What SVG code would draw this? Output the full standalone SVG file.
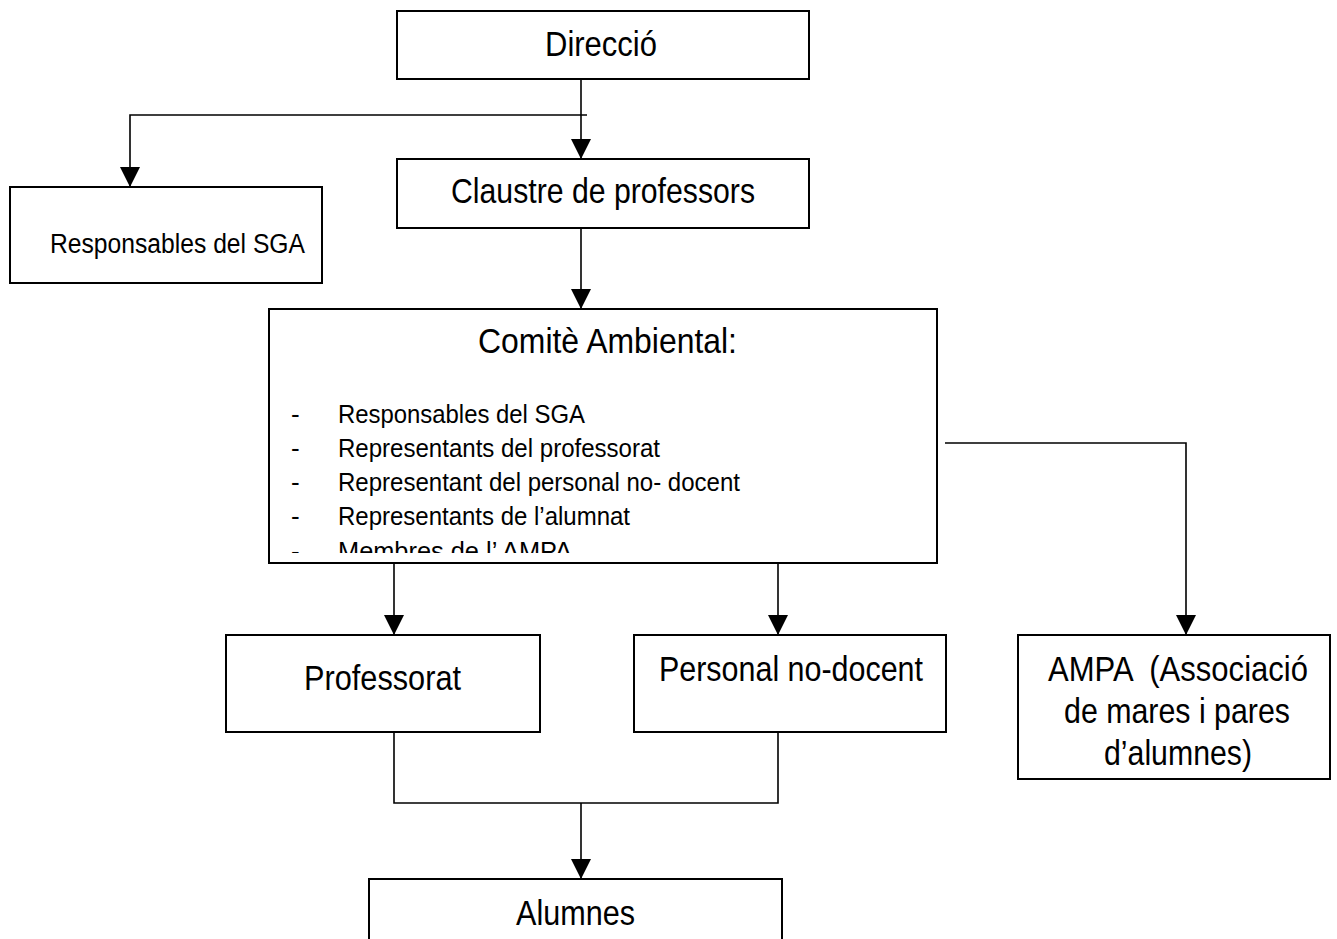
<svg xmlns="http://www.w3.org/2000/svg" width="1337" height="939" viewBox="0 0 1337 939">
<style>
.box{fill:#fff;stroke:#000;stroke-width:2}
.conn{fill:none;stroke:#000;stroke-width:1.6}
text{font-family:"Liberation Sans",Arial,sans-serif;fill:#000}
.big{font-size:35px}
.small{font-size:27px}
.item{font-size:26px}
</style>
<defs>
<marker id="arrow" markerUnits="userSpaceOnUse" markerWidth="20" markerHeight="20" refX="20" refY="10" orient="auto" viewBox="0 0 20 20">
<path d="M0,0 L20,10 L0,20 Z" fill="#000"/>
</marker>
<clipPath id="clipList"><rect x="270" y="309" width="667" height="244"/></clipPath>
</defs>
<rect width="1337" height="939" fill="#fff"/>

<g id="connectors">
<path class="conn" d="M581,79 V159" marker-end="url(#arrow)"/>
<path class="conn" d="M587,115 H130 V187" marker-end="url(#arrow)"/>
<path class="conn" d="M581,228 V309" marker-end="url(#arrow)"/>
<path class="conn" d="M394,563 V635" marker-end="url(#arrow)"/>
<path class="conn" d="M778,563 V635" marker-end="url(#arrow)"/>
<path class="conn" d="M945,443 H1186 V635" marker-end="url(#arrow)"/>
<path class="conn" d="M394,732 V803 H778 V732"/>
<path class="conn" d="M581,803 V879" marker-end="url(#arrow)"/>
</g>

<g id="direccio">
<rect class="box" x="397" y="11" width="412" height="68"/>
<text class="big" x="545" y="56" textLength="112" lengthAdjust="spacingAndGlyphs">Direcció</text>
</g>

<g id="claustre">
<rect class="box" x="397" y="159" width="412" height="69"/>
<text class="big" x="451" y="203" textLength="304" lengthAdjust="spacingAndGlyphs">Claustre de professors</text>
</g>

<g id="responsables">
<rect class="box" x="10" y="187" width="312" height="96"/>
<text class="small" x="50" y="253" textLength="255" lengthAdjust="spacingAndGlyphs">Responsables del SGA</text>
</g>

<g id="comite">
<rect class="box" x="269" y="309" width="668" height="254"/>
<text class="big" x="478" y="353" textLength="259" lengthAdjust="spacingAndGlyphs">Comitè Ambiental:</text>
<g clip-path="url(#clipList)">
<text class="item" x="291" y="423">-</text>
<text class="item" x="338" y="423" textLength="247" lengthAdjust="spacingAndGlyphs">Responsables del SGA</text>
<text class="item" x="291" y="457">-</text>
<text class="item" x="338" y="457" textLength="322" lengthAdjust="spacingAndGlyphs">Representants del professorat</text>
<text class="item" x="291" y="491">-</text>
<text class="item" x="338" y="491" textLength="402" lengthAdjust="spacingAndGlyphs">Representant del personal no- docent</text>
<text class="item" x="291" y="525">-</text>
<text class="item" x="338" y="525" textLength="292" lengthAdjust="spacingAndGlyphs">Representants de l’alumnat</text>
<text class="item" x="291" y="560">-</text>
<text class="item" x="338" y="560" textLength="234" lengthAdjust="spacingAndGlyphs">Membres de l’ AMPA</text>
</g>
</g>

<g id="professorat">
<rect class="box" x="226" y="635" width="314" height="97"/>
<text class="big" x="304" y="690" textLength="157" lengthAdjust="spacingAndGlyphs">Professorat</text>
</g>

<g id="personal">
<rect class="box" x="634" y="635" width="312" height="97"/>
<text class="big" x="659" y="681" textLength="264" lengthAdjust="spacingAndGlyphs">Personal no-docent</text>
</g>

<g id="ampa">
<rect class="box" x="1018" y="635" width="312" height="144"/>
<text class="big" x="1048" y="681" textLength="260" lengthAdjust="spacingAndGlyphs" style="white-space:pre">AMPA  (Associació</text>
<text class="big" x="1064" y="723" textLength="226" lengthAdjust="spacingAndGlyphs">de mares i pares</text>
<text class="big" x="1104" y="765" textLength="148" lengthAdjust="spacingAndGlyphs">d’alumnes)</text>
</g>

<g id="alumnes">
<rect class="box" x="369" y="879" width="413" height="80"/>
<text class="big" x="516" y="925" textLength="119" lengthAdjust="spacingAndGlyphs">Alumnes</text>
</g>
</svg>
